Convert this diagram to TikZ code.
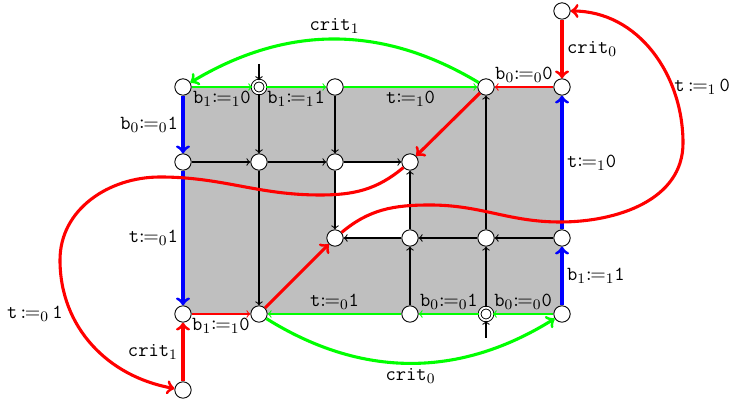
\documentclass[tikz,border=0pt]{standalone}
\usepackage{mathtools}
\newcommand\myasg[3]{#1$\coloneqq_{#2}$\texttt{#3}}
\newcommand\myasgs[3]{#1\,$\coloneqq_{#2}$\,\texttt{#3}}
\newcommand\vb[1]{\texttt{b}$_{#1}$}
\newcommand\vt{\texttt{t}}
\newcommand\crit[1]{\texttt{crit}$_{#1}$}
\begin{document}
\begin{tikzpicture}[x=0.55pt,y=0.55pt,
  st/.style={circle,draw,fill=white,minimum size=9pt,inner sep=0pt,line width=0.5pt},
  ini/.style={circle,draw,fill=white,double,double distance=1pt,minimum size=7pt,inner sep=0pt,line width=0.5pt},
  ed/.style={->,line width=0.6pt},
  thk/.style={->,line width=1.7pt},
  lb/.style={inner sep=2pt,text=black,font=\fontsize{11}{13}\selectfont}]
\useasboundingbox (0,0) rectangle (734,403);
\fill[gray!50,even odd rule] (183,316) rectangle (562,89) (335,241) rectangle (410,165);
% nodes
\node[st] (a00) at (183,316) {};
\node[ini] (a01) at (259,316) {};
\node[st] (a02) at (335,316) {};
\node[st] (a04) at (486,316) {};
\node[st] (a05) at (562,316) {};
\node[st] (a10) at (183,241) {};
\node[st] (a11) at (259,241) {};
\node[st] (a12) at (335,241) {};
\node[st] (a13) at (410,241) {};
\node[st] (a22) at (335,165) {};
\node[st] (a23) at (410,165) {};
\node[st] (a24) at (486,165) {};
\node[st] (a25) at (562,165) {};
\node[st] (a30) at (183,89) {};
\node[st] (a31) at (259,89) {};
\node[st] (a33) at (410,89) {};
\node[ini] (a34) at (486,89) {};
\node[st] (a35) at (562,89) {};
\node[st] (top) at (562,392) {};
\node[st] (bot) at (183,13) {};
\coordinate (i1) at (259,339);
\coordinate (i2) at (486,65);
% black edges
\draw[ed] (i1) -- (a01);
\draw[ed] (i2) -- (a34);
\draw[ed] (a01) -- (a11);
\draw[ed] (a02) -- (a12);
\draw[ed] (a10) -- (a11);
\draw[ed] (a11) -- (a12);
\draw[ed] (a12) -- (a13);
\draw[ed] (a11) -- (a31);
\draw[ed] (a12) -- (a22);
\draw[ed] (a23) -- (a22);
\draw[ed] (a24) -- (a23);
\draw[ed] (a25) -- (a24);
\draw[ed] (a33) -- (a23);
\draw[ed] (a34) -- (a24);
\draw[ed] (a23) -- (a13);
\draw[ed] (a24) -- (a04);
% green thin
\draw[ed,green] (a00) -- node[lb,below] {\myasg{\vb1}{1}{0}} (a01);
\draw[ed,green] (a01) -- node[lb,below] {\myasg{\vb1}{1}{1}} (a02);
\draw[ed,green] (a02) -- node[lb,below] {\myasg{\vt}{1}{0}} (a04);
\draw[ed,green] (a35) -- node[lb,above] {\myasg{\vb0}{0}{0}} (a34);
\draw[ed,green] (a34) -- node[lb,above] {\myasg{\vb0}{0}{1}} (a33);
\draw[ed,green] (a33) -- node[lb,above] {\myasg{\vt}{0}{1}} (a31);
% green thick
\draw[thk,green] (a04) to[bend right=31] node[lb,above] {\crit1} (a00);
\draw[thk,green] (a31) to[bend right=32] node[lb,below] {\crit0} (a35);
% red thin
\draw[ed,red] (a05) -- node[lb,above] {\myasg{\vb0}{0}{0}} (a04);
\draw[ed,red] (a30) -- node[lb,below] {\myasg{\vb1}{1}{0}} (a31);
% blue
\draw[thk,blue] (a00) -- node[lb,left] {\myasg{\vb0}{0}{1}} (a10);
\draw[thk,blue] (a10) -- node[lb,left] {\myasg{\vt}{0}{1}} (a30);
\draw[thk,blue] (a35) -- node[lb,right] {\myasg{\vb1}{1}{1}} (a25);
\draw[thk,blue] (a25) -- node[lb,right] {\myasg{\vt}{1}{0}} (a05);
% red thick
\draw[thk,red] (top) -- node[lb,right] {\crit0} (a05);
\draw[thk,red] (bot) -- node[lb,left] {\crit1} (a30);
\draw[thk,red] (a04) -- (a13);
\draw[thk,red] (a31) -- (a22);
\draw[thk,red] (a22) to[out=40,in=180] (430,198) to[out=0,in=180] (560,181)
  to[out=0,in=-90] (683,260) to[out=90,in=0] (top);
\draw[thk,red] (a13) to[out=-140,in=0] (320,208) to[out=180,in=0] (160,226)
  to[out=180,in=90] (60,143) to[out=-90,in=170] (bot);
\node[lb,anchor=east] (lr) at (734,316) {\myasgs{\vt}{1}{0}};
\node[lb,anchor=west] (ll) at (3,89) {\myasgs{\vt}{0}{1}};
\end{tikzpicture}
\end{document}
